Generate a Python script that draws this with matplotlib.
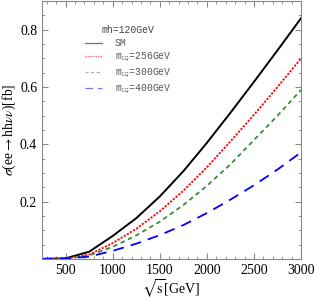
import matplotlib
matplotlib.use("Agg")
import matplotlib.pyplot as plt
from matplotlib.ticker import MultipleLocator

# データ (sqrt(s) [GeV] vs cross section [fb])
sqrt_s = [250, 500, 750, 1000, 1250, 1500, 1750, 2000, 2250, 2500, 2750, 3000]
sigma_sm = [0.0, 0.002, 0.025, 0.08, 0.142, 0.218, 0.306, 0.405, 0.51, 0.618, 0.728, 0.84]
sigma_256 = [0.0, 0.001, 0.015, 0.055, 0.105, 0.166, 0.238, 0.32, 0.41, 0.503, 0.60, 0.70]
sigma_300 = [0.0, 0.001, 0.012, 0.042, 0.082, 0.13, 0.188, 0.255, 0.33, 0.415, 0.50, 0.59]
sigma_400 = [0.0, 0.001, 0.008, 0.028, 0.053, 0.083, 0.118, 0.16, 0.207, 0.257, 0.312, 0.372]

labels = ['SM', r'm$_{\mathtt{LQ}}$=256GeV', r'm$_{\mathtt{LQ}}$=300GeV', r'm$_{\mathtt{LQ}}$=400GeV']

plt.rcParams['mathtext.fontset'] = 'stix'
plt.rcParams['font.family'] = ['Liberation Serif', 'DejaVu Serif']

fig = plt.figure(figsize=(3.16, 3.0), dpi=100)
ax = fig.add_axes([0.133, 0.137, 0.82, 0.86])

ax.plot(sqrt_s, sigma_sm, color='black', lw=1.4, label=labels[0])
ax.plot(sqrt_s, sigma_256, color='red', lw=1.3, ls=(0, (1.2, 0.8)), label=labels[1])
ax.plot(sqrt_s, sigma_300, color='#3a8a3a', lw=1.3, ls=(0, (2.5, 2)), label=labels[2])
ax.plot(sqrt_s, sigma_400, color='blue', lw=1.3, ls=(0, (6, 4)), label=labels[3])

ax.set_xlim(250, 3000)
ax.set_ylim(0, 0.9)
ax.xaxis.set_minor_locator(MultipleLocator(100))
ax.yaxis.set_minor_locator(MultipleLocator(0.05))
ax.set_yticks([0.2, 0.4, 0.6, 0.8])
ax.set_xticks([500, 1000, 1500, 2000, 2500, 3000])
ax.tick_params(which='both', direction='in', top=True, right=True, color='#888888', labelsize=10)
ax.tick_params(which='major', length=4, pad=3.5)
ax.tick_params(which='minor', length=2)
for sp in ax.spines.values():
    sp.set_color('#888888')

ax.set_xlabel(r'$\sqrt{\rm s}$[GeV]', fontsize=10)
ax.set_ylabel(r'$\sigma$(ee$\rightarrow$hh$\nu\nu$)[fb]', fontsize=9.8)
ax.xaxis.set_label_coords(0.5, -0.115, transform=ax.transAxes)
ax.yaxis.set_label_coords(-0.127, 0.5, transform=ax.transAxes)
ax.xaxis.label.set_va('center')
ax.yaxis.label.set_va('center')

leg = ax.legend(loc='upper left', bbox_to_anchor=(0.15, 0.92), frameon=False,
                title='mh=120GeV', handlelength=1.8, handletextpad=1.3,
                labelspacing=0.3, borderaxespad=0,
                prop={'family': 'Liberation Mono', 'size': 7.0})
leg.get_title().set_fontfamily('Liberation Mono')
leg.get_title().set_fontsize(7.0)
leg.get_title().set_color('#444444')
for t in leg.get_texts():
    t.set_color('#555555')
for ln in leg.get_lines():
    ln.set_linewidth(0.9)
    ln.set_alpha(0.55)

fig.savefig('out.png', dpi=100)
